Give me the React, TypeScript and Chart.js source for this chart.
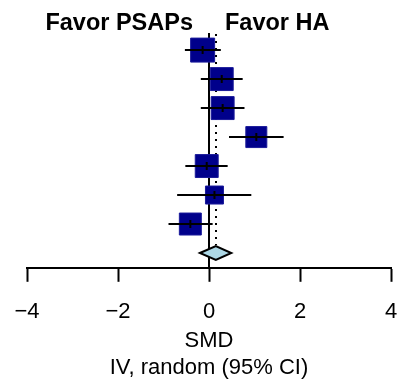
import React, { useEffect, useRef } from "react";
import { Chart, registerables } from "chart.js";

Chart.register(...registerables);

// ---- data ----
const smd = [-0.14, 0.28, 0.3, 1.04, -0.05, 0.12, -0.41];
const ciLow = [-0.53, -0.18, -0.18, 0.44, -0.52, -0.7, -0.89];
const ciHigh = [0.26, 0.74, 0.78, 1.64, 0.41, 0.93, 0.08];
const weights = [16.8, 15.4, 15.4, 13.0, 15.4, 9.7, 14.2];
const pooledEst = 0.15;
const pooledLow = -0.2;
const pooledHigh = 0.49;
const xTickValues = [-4, -2, 0, 2, 4];
const headerLeft = "Favor PSAPs";
const headerRight = "Favor HA";
const axisTitle = ["SMD", "IV, random (95% CI)"];

const FONT = "'Liberation Sans', Arial, Helvetica, sans-serif";
const BOX_COLOR = "#00008b";
const TICK_PAD = 17;
const PAD_L = 27;
const PAD_R = 6;

export default function App() {
  const ref = useRef<HTMLCanvasElement | null>(null);

  useEffect(() => {
    const canvas = ref.current;
    if (!canvas) return;
    const rows = smd.map((_, i) => i + 1);
    const pooledRow = smd.length + 1;

    const ciData: any[] = [];
    smd.forEach((_, i) => {
      ciData.push({ x: ciLow[i], y: rows[i] });
      ciData.push({ x: ciHigh[i], y: rows[i] });
      ciData.push({ x: smd[i], y: null });
    });

    const boxRadius = weights.map((w) => (6.1 * Math.sqrt(w) - 1) / Math.SQRT2);

    const forestPlugin = {
      id: "forest",
      beforeDatasetsDraw(chart: any) {
        const { ctx, chartArea, scales } = chart;
        const xs = scales.x;
        const ys = scales.y;
        ctx.save();
        const x0 = Math.round(xs.getPixelForValue(0));
        ctx.strokeStyle = "#000";
        ctx.lineWidth = 2;
        ctx.beginPath();
        ctx.moveTo(x0, chartArea.top);
        ctx.lineTo(x0, chartArea.bottom);
        ctx.stroke();
        const xp = Math.round(xs.getPixelForValue(pooledEst));
        ctx.setLineDash([2, 5]);
        ctx.beginPath();
        ctx.moveTo(xp, chartArea.top + 1);
        ctx.lineTo(xp, ys.getPixelForValue(pooledRow) - 8);
        ctx.stroke();
        ctx.restore();
      },
      afterDatasetsDraw(chart: any) {
        const { ctx, scales } = chart;
        const xs = scales.x;
        const ys = scales.y;
        ctx.save();
        const yc = ys.getPixelForValue(pooledRow);
        const h = 7;
        ctx.beginPath();
        ctx.moveTo(xs.getPixelForValue(pooledLow), yc);
        ctx.lineTo(xs.getPixelForValue(pooledEst), yc - h);
        ctx.lineTo(xs.getPixelForValue(pooledHigh), yc);
        ctx.lineTo(xs.getPixelForValue(pooledEst), yc + h);
        ctx.closePath();
        ctx.fillStyle = "#add8e6";
        ctx.fill();
        ctx.strokeStyle = "#000";
        ctx.lineWidth = 2;
        ctx.lineJoin = "miter";
        ctx.stroke();
        const x0 = xs.getPixelForValue(0);
        ctx.fillStyle = "#000";
        ctx.font = `bold 23.5px ${FONT}`;
        ctx.textBaseline = "alphabetic";
        ctx.textAlign = "right";
        ctx.fillText(headerLeft, x0 - 16, 30);
        ctx.textAlign = "left";
        ctx.fillText(headerRight, x0 + 16, 30);
        ctx.restore();
      },
    };

    const chart = new Chart(canvas, {
      type: "scatter",
      data: {
        datasets: [
          {
            label: "mid",
            data: smd.map((v, i) => ({ x: v, y: rows[i] })),
            pointStyle: "line",
            rotation: 90,
            pointRadius: 4,
            borderColor: "#000",
            borderWidth: 2,
            order: 0,
          } as any,
          {
            label: "ci",
            data: ciData,
            showLine: true,
            spanGaps: false,
            pointRadius: 0,
            borderColor: "#000",
            borderWidth: 2,
            order: 1,
          } as any,
          {
            label: "boxes",
            data: smd.map((v, i) => ({ x: v, y: rows[i] })),
            pointStyle: "rect",
            pointRadius: boxRadius,
            backgroundColor: BOX_COLOR,
            borderColor: "#1a1a9a",
            borderWidth: 1,
            order: 2,
          } as any,
        ],
      },
      options: {
        animation: false,
        responsive: false,
        devicePixelRatio: 1,
        events: [],
        layout: { autoPadding: false, padding: { left: PAD_L, right: PAD_R, top: 33, bottom: 0 } },
        plugins: { legend: { display: false }, tooltip: { enabled: false } },
        scales: {
          x: {
            type: "linear",
            min: -4,
            max: 4,
            afterBuildTicks: (scale: any) => {
              scale.ticks = xTickValues.map((v) => ({ value: v }));
            },
            afterFit: (scale: any) => {
              scale.paddingLeft = 0;
              scale.paddingRight = 0;
              scale.height = scale.height - TICK_PAD;
            },
            border: { display: true, color: "#000", width: 2 },
            grid: {
              drawOnChartArea: false,
              drawTicks: true,
              tickLength: 14,
              tickColor: "#000",
              tickWidth: 2,
            },
            ticks: {
              color: "#000",
              padding: TICK_PAD,
              maxRotation: 0,
              font: { family: FONT, size: 22 },
              callback: (v: any) => (Number(v) < 0 ? "\u2212" + Math.abs(Number(v)) : String(v)),
            },
            title: {
              display: true,
              text: axisTitle,
              color: "#000",
              font: { family: FONT, size: 22, lineHeight: 1.2 },
              padding: { top: 3, bottom: 1 },
            },
          },
          y: {
            type: "linear",
            display: false,
            reverse: true,
            min: 0.41,
            max: 8.51,
          },
        },
      },
      plugins: [forestPlugin],
    });
    return () => chart.destroy();
  }, []);

  return (
    <div style={{ position: "absolute", left: 0, top: 0, width: 397, height: 382, background: "#fff" }}>
      <canvas ref={ref} width={397} height={382} style={{ display: "block" }} />
    </div>
  );
}
